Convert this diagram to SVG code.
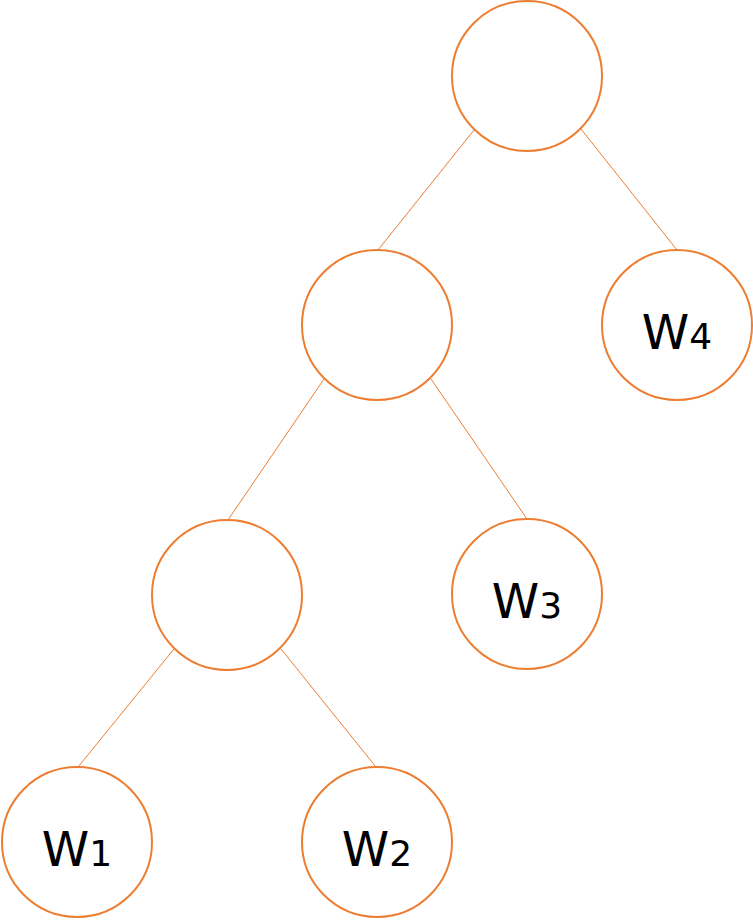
<svg xmlns="http://www.w3.org/2000/svg" width="753" height="923" viewBox="0 0 753 923">
<style>
.node{fill:#fff;stroke:#ED7D31;stroke-width:2}
.edge{stroke:#ED7D31;stroke-width:1}
.lbl{font-family:"DejaVu Sans","Noto Sans",sans-serif;font-size:48px;fill:#000;text-anchor:middle}
.sub{font-size:36px}
</style>
<rect width="753" height="923" fill="#fff"/>
<g id="edges">
<line class="edge" x1="474" y1="130" x2="378" y2="250"/>
<line class="edge" x1="581" y1="129" x2="677" y2="250"/>
<line class="edge" x1="324" y1="379" x2="228" y2="520"/>
<line class="edge" x1="431" y1="379" x2="527" y2="519"/>
<line class="edge" x1="174" y1="649" x2="78" y2="767"/>
<line class="edge" x1="281" y1="649" x2="376" y2="767"/>
</g>
<g id="root"><circle class="node" cx="527" cy="76" r="75"/></g>
<g id="mid"><circle class="node" cx="377" cy="325" r="75"/></g>
<g id="left"><circle class="node" cx="227" cy="595" r="75"/></g>
<g id="w4"><circle class="node" cx="677" cy="325" r="75"/><text class="lbl" x="677" y="349">W<tspan class="sub">4</tspan></text></g>
<g id="w3"><circle class="node" cx="527" cy="594" r="75"/><text class="lbl" x="527" y="618">W<tspan class="sub">3</tspan></text></g>
<g id="w1"><circle class="node" cx="77" cy="842" r="75"/><text class="lbl" x="77" y="866">W<tspan class="sub">1</tspan></text></g>
<g id="w2"><circle class="node" cx="377" cy="842" r="75"/><text class="lbl" x="377" y="866">W<tspan class="sub">2</tspan></text></g>
</svg>
